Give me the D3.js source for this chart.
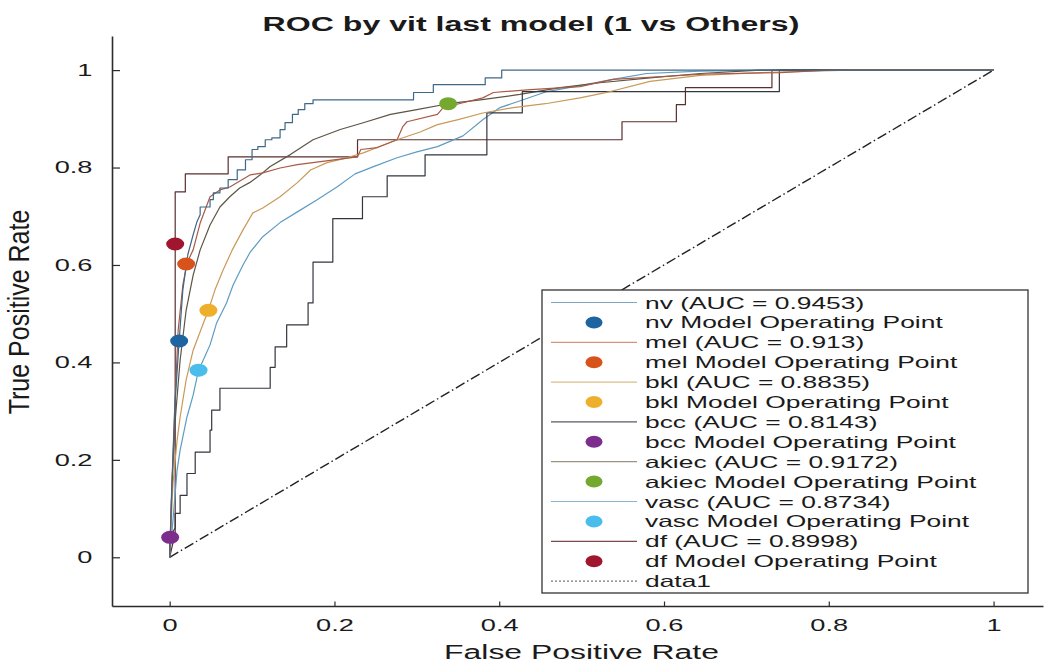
<!DOCTYPE html>
<html>
<head>
<meta charset="utf-8">
<script src="https://cdn.jsdelivr.net/npm/d3@7/dist/d3.min.js"></script>
<style>
  html, body { margin: 0; padding: 0; background: #ffffff; }
  svg { display: block; }
  text { font-family: "Liberation Sans", Arial, Helvetica, sans-serif; fill: #1a1a1a; }
</style>
</head>
<body>
<svg id="chart" width="1044" height="663"></svg>
<script>
// ---------------- data ----------------
const classNames = ["nv", "mel", "bkl", "bcc", "akiec", "vasc", "df"];
const aucLabels  = ["0.9453", "0.913", "0.8835", "0.8143", "0.9172", "0.8734", "0.8998"];

const nvFPR = [0,0.003,0.0067,0.0115,0.016,0.022,0.0285,0.033,0.037,0.037,0.049,0.049,0.053,0.053,0.061,0.061,0.071,0.071,0.082,0.082,0.092,0.092,0.1,0.1,0.107,0.107,0.116,0.116,0.124,0.124,0.134,0.134,0.14,0.14,0.149,0.149,0.156,0.156,0.164,0.164,0.174,0.174,0.296,0.296,0.32,0.32,0.383,0.383,0.403,0.403,1];
const nvTPR = [0,0.158,0.322,0.444,0.549,0.621,0.662,0.688,0.703,0.719,0.719,0.734,0.734,0.748,0.748,0.758,0.758,0.775,0.775,0.795,0.795,0.816,0.816,0.837,0.837,0.843,0.843,0.857,0.857,0.861,0.861,0.878,0.878,0.892,0.892,0.909,0.909,0.919,0.919,0.931,0.931,0.939,0.939,0.954,0.954,0.97,0.97,0.984,0.984,1,1];

const melFPR = [0,0.002,0.0055,0.0103,0.016,0.021,0.0285,0.037,0.049,0.061,0.073,0.098,0.113,0.134,0.155,0.183,0.228,0.232,0.252,0.276,0.283,0.288,0.325,0.332,0.356,0.38,0.393,0.438,0.498,0.538,0.652,0.741,0.8,1];
const melTPR = [0,0.117,0.281,0.466,0.559,0.604,0.631,0.686,0.74,0.754,0.76,0.785,0.789,0.799,0.806,0.812,0.822,0.837,0.841,0.857,0.884,0.894,0.909,0.923,0.933,0.943,0.954,0.96,0.966,0.981,0.992,0.995,1,1];

const bklFPR = [0,0.004,0.009,0.0127,0.02,0.0285,0.041,0.047,0.055,0.065,0.076,0.089,0.101,0.113,0.134,0.155,0.171,0.191,0.215,0.235,0.276,0.304,0.325,0.349,0.38,0.417,0.456,0.498,0.535,0.583,0.644,0.717,0.826,1];
const bklTPR = [0,0.152,0.24,0.288,0.364,0.425,0.481,0.507,0.549,0.59,0.631,0.672,0.707,0.717,0.74,0.769,0.795,0.81,0.82,0.83,0.857,0.873,0.888,0.898,0.912,0.923,0.931,0.943,0.956,0.977,0.989,0.995,1,1];

const bccFPR = [0,0,0.0067,0.0067,0.0127,0.0127,0.021,0.021,0.031,0.031,0.049,0.049,0.051,0.051,0.061,0.061,0.122,0.122,0.128,0.128,0.142,0.142,0.168,0.168,0.174,0.174,0.198,0.198,0.234,0.234,0.264,0.264,0.31,0.31,0.385,0.385,0.428,0.428,0.74,0.74,1];
const bccTPR = [0,0.041,0.06,0.09,0.09,0.127,0.127,0.172,0.172,0.216,0.216,0.261,0.261,0.302,0.302,0.347,0.347,0.39,0.39,0.432,0.432,0.477,0.477,0.522,0.522,0.606,0.606,0.695,0.695,0.74,0.74,0.783,0.783,0.826,0.826,0.912,0.912,0.956,0.956,1,1];

const akiecFPR = [0,0.003,0.0067,0.0127,0.02,0.0285,0.037,0.049,0.061,0.073,0.085,0.097,0.11,0.122,0.146,0.174,0.207,0.235,0.268,0.3,0.338,0.377,0.425,0.474,0.522,0.583,0.644,0.717,1];
const akiecTPR = [0,0.158,0.281,0.405,0.507,0.579,0.631,0.682,0.719,0.74,0.758,0.769,0.785,0.802,0.826,0.857,0.878,0.892,0.909,0.919,0.931,0.939,0.95,0.964,0.974,0.984,0.993,1,1];

const vascFPR = [0,0.003,0.0055,0.009,0.0127,0.021,0.0285,0.035,0.043,0.049,0.057,0.069,0.077,0.089,0.098,0.113,0.134,0.155,0.179,0.203,0.225,0.249,0.276,0.3,0.325,0.356,0.38,0.401,0.422,0.458,0.498,0.538,0.579,0.644,0.717,1];
const vascTPR = [0,0.056,0.107,0.179,0.22,0.288,0.333,0.384,0.413,0.436,0.481,0.522,0.559,0.6,0.627,0.658,0.687,0.709,0.734,0.76,0.787,0.803,0.82,0.832,0.843,0.865,0.898,0.923,0.935,0.956,0.968,0.981,0.993,0.998,1,1];

const dfFPR = [0,0.0067,0.0067,0.019,0.019,0.071,0.071,0.228,0.228,0.549,0.549,0.615,0.615,0.626,0.626,0.731,0.731,1];
const dfTPR = [0,0.05,0.75,0.75,0.787,0.787,0.822,0.822,0.857,0.857,0.894,0.894,0.929,0.929,0.964,0.964,1,1];

// operating points, same order as classNames
const opFPR = [0.0115, 0.02, 0.047, 0.0006, 0.338, 0.035, 0.0067];
const opTPR = [0.444, 0.602, 0.507, 0.041, 0.931, 0.384, 0.643];

const chanceFPR = [0, 1];
const chanceTPR = [0, 1];

const xTicks = [0, 0.2, 0.4, 0.6, 0.8, 1];
const yTicks = [0, 0.2, 0.4, 0.6, 0.8, 1];
const tickLabels = ["0", "0.2", "0.4", "0.6", "0.8", "1"];

const titleText = "ROC by vit last model (1 vs Others)";
const xLabelText = "False Positive Rate";
const yLabelText = "True Positive Rate";

// ---------------- styles ----------------
const lineColors   = ["#3f6786", "#a85a44", "#c89a58", "#33363f", "#5c5444", "#5e9cc2", "#5a2f2e"];
const legendLineColors = ["#7ea5c1", "#d7937d", "#d8bd8c", "#565b67", "#9c9482", "#8ab4cc", "#7b4a4a"];
const markerColors = ["#1d64a0", "#d8521c", "#eeaf2c", "#7d2e8c", "#74a82f", "#4bbdec", "#a0162e"];

const curves = [
  [nvFPR, nvTPR], [melFPR, melTPR], [bklFPR, bklTPR], [bccFPR, bccTPR],
  [akiecFPR, akiecTPR], [vascFPR, vascTPR], [dfFPR, dfTPR]
];

// ---------------- drawing ----------------
const svg = d3.select("#chart");
const x = d3.scaleLinear().domain([-0.07, 1.06]).range([112, 1043]);
const y = d3.scaleLinear().domain([-0.1, 1.07]).range([606, 36]);

function stretch(sel, sx) {
  sel.each(function () {
    const t = d3.select(this);
    const tx = +t.attr("x") || 0, ty = +t.attr("y") || 0;
    t.attr("x", 0).attr("y", 0).attr("transform", `translate(${tx},${ty}) scale(${sx},1)`);
  });
}
function fitWidth(sel, w) {
  const natural = sel.node().getComputedTextLength();
  stretch(sel, w / natural);
}

// axes
const xAxis = d3.axisBottom(x).tickValues(xTicks).tickFormat((d, i) => tickLabels[i])
  .tickSizeInner(-4.5).tickSizeOuter(0).tickPadding(13);
const yAxis = d3.axisLeft(y).tickValues(yTicks).tickFormat((d, i) => tickLabels[i])
  .tickSizeInner(-8).tickSizeOuter(0).tickPadding(19.5);

const gx = svg.append("g").attr("transform", "translate(0,606)").call(xAxis);
const gy = svg.append("g").attr("transform", "translate(112,0)").call(yAxis);
[gx, gy].forEach(g => {
  g.select(".domain").attr("stroke", "#2b2b2b").attr("stroke-width", 1.6);
  g.selectAll(".tick line").attr("stroke", "#2b2b2b").attr("stroke-width", 1.2);
  g.selectAll(".tick text").attr("font-size", 16.5).attr("fill", "#1f1f1f")
    .attr("font-family", "'Liberation Sans', Arial, sans-serif");
});
stretch(gx.selectAll(".tick text"), 1.65);
stretch(gy.selectAll(".tick text"), 1.65);

// chance line
const line = d3.line().x(d => x(d[0])).y(d => y(d[1]));
svg.append("path")
  .attr("d", line(chanceFPR.map((v, i) => [v, chanceTPR[i]])))
  .attr("fill", "none").attr("stroke", "#222").attr("stroke-width", 1.4)
  .attr("stroke-dasharray", "10,3,1.5,3");

// ROC curves (drawn in reverse so nv is on top)
curves.map((c, k) => k).reverse().forEach(k => {
  const [fx, ty] = curves[k];
  svg.append("path")
    .attr("d", line(fx.map((v, i) => [v, ty[i]])))
    .attr("fill", "none").attr("stroke", lineColors[k]).attr("stroke-width", 1.2)
    .attr("stroke-linejoin", "round");
});

// operating points
svg.append("g").selectAll("ellipse").data(classNames).join("ellipse")
  .attr("cx", (d, i) => x(opFPR[i])).attr("cy", (d, i) => y(opTPR[i]))
  .attr("rx", 9).attr("ry", 6.5)
  .attr("fill", (d, i) => markerColors[i]);

// title and axis labels
const title = svg.append("text").attr("x", 531).attr("y", 31)
  .attr("text-anchor", "middle").attr("font-size", 20).attr("font-weight", "bold")
  .text(titleText);
fitWidth(title, 537);

const xl = svg.append("text").attr("x", 581.5).attr("y", 659)
  .attr("text-anchor", "middle").attr("font-size", 21).text(xLabelText);
fitWidth(xl, 275);

svg.append("text").attr("text-anchor", "middle").attr("font-size", 25)
  .attr("transform", "translate(29,312) scale(1.15,1) rotate(-90)")
  .text(yLabelText);

// legend
const lg = svg.append("g");
lg.append("rect").attr("x", 542).attr("y", 290).attr("width", 486).attr("height", 303)
  .attr("fill", "#fff").attr("stroke", "#333").attr("stroke-width", 1.3);

const legendItems = [];
classNames.forEach((c, i) => {
  legendItems.push({ type: "line", label: `${c} (AUC = ${aucLabels[i]})`, color: legendLineColors[i] });
  legendItems.push({ type: "dot", label: `${c} Model Operating Point`, color: markerColors[i] });
});
legendItems.push({ type: "dash", label: "data1", color: "#555" });

const rowY = i => 302.5 + i * 19.9;
legendItems.forEach((it, i) => {
  const cy = rowY(i);
  if (it.type === "line") {
    lg.append("line").attr("x1", 551).attr("x2", 637).attr("y1", cy).attr("y2", cy)
      .attr("stroke", it.color).attr("stroke-width", 1.2);
  } else if (it.type === "dot") {
    lg.append("ellipse").attr("cx", 594).attr("cy", cy).attr("rx", 8.5).attr("ry", 6)
      .attr("fill", it.color);
  } else {
    lg.append("line").attr("x1", 551).attr("x2", 637).attr("y1", cy).attr("y2", cy)
      .attr("stroke", it.color).attr("stroke-width", 1).attr("stroke-dasharray", "2,2");
  }
  const t = lg.append("text").attr("x", 645).attr("y", cy + 6)
    .attr("font-size", 16.5).text(it.label);
  stretch(t, 1.6);
});
</script>
</body>
</html>
